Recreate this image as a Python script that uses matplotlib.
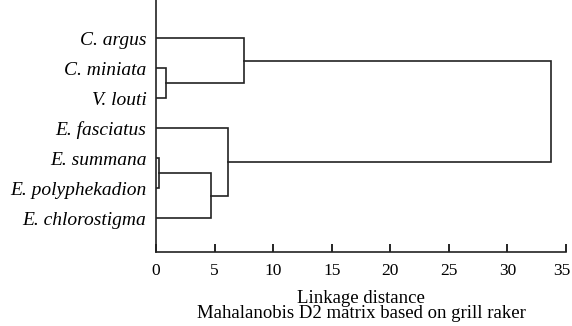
import matplotlib.pyplot as plt
from matplotlib.transforms import ScaledTranslation

# leaves, top to bottom
species = ["C. argus", "C. miniata", "V. louti", "E. fasciatus",
           "E. summana", "E. polyphekadion", "E. chlorostigma"]

# merges: (left node, right node, linkage distance); new nodes numbered from 7
merge_left = [1, 4, 8, 0, 3, 10]
merge_right = [2, 5, 6, 7, 9, 11]
merge_dist = [0.85, 0.27, 4.67, 7.55, 6.18, 33.7]

xticks = [0, 5, 10, 15, 20, 25, 30, 35]

plt.rcParams['font.family'] = ['Liberation Serif', 'DejaVu Serif']

fig = plt.figure(figsize=(5.72, 3.26), dpi=100)
ax = fig.add_axes([0.2727, 0.227, 0.7168, 0.773])

pos = {i: float(i) for i in range(len(species))}
height = {i: 0.0 for i in range(len(species))}
for k, (a, b, d) in enumerate(zip(merge_left, merge_right, merge_dist)):
    node = len(species) + k
    ax.plot([height[a], d, d, height[b]], [pos[a], pos[a], pos[b], pos[b]],
            color='#222222', lw=1.2, solid_joinstyle='miter')
    pos[node] = (pos[a] + pos[b]) / 2
    height[node] = d

ax.set_xlim(0, 35)
ax.set_ylim(7.13, -1.27)
ax.set_xticks(xticks)
ax.set_yticks(range(len(species)))
ax.set_yticklabels(species, style='italic', fontsize=14)
ax.tick_params(axis='y', length=0, pad=7)
ax.tick_params(axis='x', direction='in', length=6, width=1.2, labelsize=12.5, pad=8)
for s in ['top', 'right']:
    ax.spines[s].set_visible(False)
for s in ['left', 'bottom']:
    ax.spines[s].set_linewidth(1.2)
    ax.spines[s].set_color('#222222')

# keep the last tick label inside the figure
last = ax.get_xticklabels()[-1]
last.set_transform(last.get_transform() + ScaledTranslation(-4 / 100, 0, fig.dpi_scale_trans))

ax.set_xlabel("Linkage distance\nMahalanobis D2 matrix based on grill raker",
              fontsize=13.5, linespacing=0.85, labelpad=8)

fig.savefig("out.png", dpi=100)
